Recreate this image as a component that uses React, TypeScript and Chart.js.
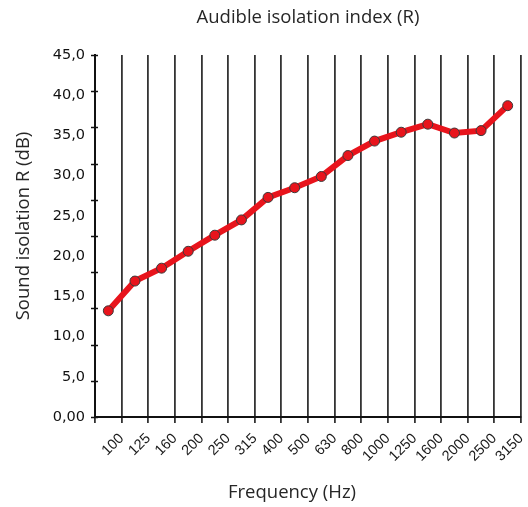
import React, { useEffect, useRef } from "react";
import { Chart, registerables } from "chart.js";

Chart.register(...registerables);

const frequencies = ["100", "125", "160", "200", "250", "315", "400", "500", "630", "800", "1000", "1250", "1600", "2000", "2500", "3150"];
const isolation = [13.2, 16.9, 18.5, 20.6, 22.6, 24.5, 27.3, 28.5, 29.9, 32.5, 34.3, 35.4, 36.4, 35.3, 35.6, 38.7];
const yMin = 0;
const yMax = 45;
const yLabelStep = 5;
const yMarkStep = 4.5;

const titleText = "Audible isolation index (R)";
const xTitleText = "Frequency (Hz)";
const yTitleText = "Sound isolation R (dB)";

const fmtY = (v: number) => (v === 0 ? "0,00" : v.toFixed(1).replace(".", ","));

const extrasPlugin = {
  id: "extras",
  afterDraw(chart: any) {
    const { ctx, chartArea, scales } = chart;
    const ys = scales.y;
    ctx.save();
    // y tick crosses
    ctx.strokeStyle = "#111";
    ctx.lineWidth = 1.5;
    for (let v = yMin; v <= yMax + 0.001; v += yMarkStep) {
      const py = Math.round(ys.getPixelForValue(v)) + 0.5;
      ctx.beginPath();
      ctx.moveTo(chartArea.left - 4, py);
      ctx.lineTo(chartArea.left + 3, py);
      ctx.stroke();
    }
    // axis titles
    ctx.fillStyle = "#262626";
    ctx.font = "18.5px 'Open Sans'";
    ctx.textAlign = "center";
    ctx.textBaseline = "middle";
    ctx.fillText(xTitleText, (chartArea.left + chartArea.right) / 2 - 16, 493);
    ctx.translate(24, (chartArea.top + chartArea.bottom) / 2 - 10);
    ctx.rotate(-Math.PI / 2);
    ctx.fillText(yTitleText, 0, 0);
    ctx.restore();
  },
};

export default function App() {
  const ref = useRef<HTMLCanvasElement>(null);

  useEffect(() => {
    if (!ref.current) return;
    const chart = new Chart(ref.current, {
      type: "line",
      data: {
        datasets: [
          {
            data: isolation.map((v, i) => ({ x: i + 0.5, y: v })),
            borderColor: "#e8141c",
            borderWidth: 6,
            tension: 0,
            pointRadius: 5,
            pointBackgroundColor: "#e8141c",
            pointBorderColor: "#3a3a3a",
            pointBorderWidth: 1,
          },
        ],
      },
      plugins: [extrasPlugin],
      options: {
        animation: false,
        responsive: true,
        maintainAspectRatio: false,
        layout: { padding: { left: 0, right: 7, top: 0, bottom: 0 } },
        plugins: {
          legend: { display: false },
          tooltip: { enabled: false },
          title: {
            display: true,
            text: titleText,
            fullSize: false,
            color: "#262626",
            font: { family: "'Open Sans'", size: 18.5, weight: "normal" },
            padding: { top: 7, bottom: 25.8 },
          },
        },
        scales: {
          x: {
            type: "linear",
            min: 0,
            max: frequencies.length,
            afterFit: (s: any) => {
              s.height = 90;
              s.paddingRight = 0;
              s.paddingLeft = 0;
            },
            ticks: {
              stepSize: 1,
              autoSkip: false,
              maxRotation: 45,
              minRotation: 45,
              padding: 7,
              color: "#1a1a1a",
              font: { family: "'Liberation Sans'", size: 14.5 },
              callback: (v: any) => (v >= 1 && v <= frequencies.length ? frequencies[v - 1] : ""),
            },
            grid: {
              color: "#333",
              lineWidth: 1.8,
              tickLength: 6,
              drawOnChartArea: true,
            },
            border: { display: true, color: "#111", width: 2 },
          },
          y: {
            min: yMin,
            max: yMax,
            afterFit: (s: any) => {
              s.width = 95;
            },
            ticks: {
              stepSize: yLabelStep,
              padding: 10,
              color: "#111",
              font: { family: "'DejaVu Sans'", size: 14.5 },
              callback: (v: any) => fmtY(Number(v)),
            },
            grid: { display: false, drawTicks: false },
            border: { display: true, color: "#111", width: 2 },
          },
        },
      },
    });
    return () => chart.destroy();
  }, []);

  return (
    <div style={{ position: "fixed", left: 0, top: 0, width: 528, height: 507, background: "#fff" }}>
      <canvas ref={ref} />
    </div>
  );
}
